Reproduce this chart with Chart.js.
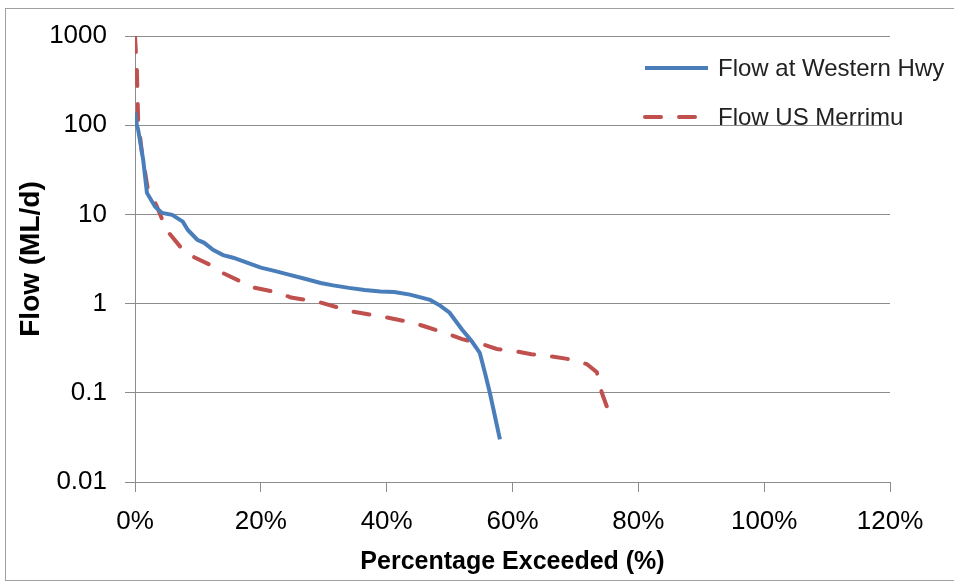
<!DOCTYPE html>
<html lang="en">
<head>
    <title>Flow Duration Curve</title>
    <meta charset="utf-8">
    <script src="https://cdn.jsdelivr.net/npm/chart.js@4.4.1/dist/chart.umd.min.js"></script>
    <style>
        body { margin: 0; background: #fff; }
        #wrap { position: relative; width: 954px; height: 583px; overflow: hidden; }
        #frame { position: absolute; left: 5px; top: 8px; width: 960px; height: 573px;
                 border: 1px solid #a0a0a0; box-sizing: border-box; pointer-events: none; }
    </style>
</head>
<body>

<div id="wrap">
    <canvas id="fdc" width="954" height="583"></canvas>
    <div id="frame"></div>
</div>

<script>
// percentage exceeded (%) and flow (ML/d)
var westernPct  = [0, 0.3, 0.5, 1.3, 1.9, 3.2, 4.3, 5.9, 7.6, 8.4, 9.9, 11, 12.4, 14, 15.6, 17.8, 20, 22, 24.6, 27, 29.5, 31.5, 34, 36.5, 39, 41.2, 43.7, 46.9, 48.5, 50, 52, 53.5, 54.8, 55.6, 56.4, 57.2, 58];
var westernFlow = [140, 100, 89, 41, 17.4, 12.2, 10.4, 9.9, 8.3, 6.7, 5.2, 4.8, 4.0, 3.5, 3.27, 2.88, 2.53, 2.34, 2.1, 1.9, 1.7, 1.6, 1.5, 1.42, 1.37, 1.35, 1.26, 1.1, 0.95, 0.79, 0.51, 0.38, 0.28, 0.17, 0.1, 0.055, 0.03];

var merrimuPct  = [0, 0.3, 0.5, 1.1, 2, 3.5, 5, 7.2, 8.7, 11.9, 13.5, 17.2, 18.9, 22.7, 24.8, 29, 34.7, 40, 44.2, 46.6, 50, 52, 55.3, 57.5, 60.7, 63, 66.3, 68.7, 71.8, 73.4, 74.2, 75];
var merrimuFlow = [1000, 410, 114, 49, 20, 12.2, 6.7, 4.34, 3.5, 2.73, 2.28, 1.72, 1.51, 1.33, 1.17, 1.05, 0.81, 0.70, 0.61, 0.54, 0.45, 0.40, 0.35, 0.31, 0.29, 0.27, 0.255, 0.24, 0.21, 0.17, 0.10, 0.07];

var seriesNames = ["Flow at Western Hwy", "Flow US Merrimu"];
var flowTicks = [0.01, 0.1, 1, 10, 100, 1000];

function toPoints(xs, ys) {
  return xs.map(function (x, i) { return { x: x, y: ys[i] }; });
}

var FONT = "'Liberation Sans', Arial, sans-serif";
var GRID = '#8c8c8c';

// legend drawn at the upper right inside the plot, like the original
var sideLegend = {
  id: 'sideLegend',
  afterDraw: function (chart) {
    var ctx = chart.ctx;
    var rows = [68, 117];
    ctx.save();
    chart.data.datasets.forEach(function (ds, i) {
      var y = rows[i];
      ctx.beginPath();
      ctx.lineWidth = 4;
      ctx.strokeStyle = ds.borderColor;
      ctx.lineCap = ds.borderCapStyle || 'butt';
      ctx.setLineDash(ds.borderDash || []);
      ctx.moveTo(645, y);
      ctx.lineTo(708, y);
      ctx.stroke();
      ctx.setLineDash([]);
      ctx.fillStyle = '#222';
      ctx.font = "24px " + FONT;
      ctx.textBaseline = 'middle';
      ctx.fillText(ds.label, 718, y + 1);
    });
    ctx.restore();
  }
};

new Chart(document.getElementById("fdc"), {
  type: 'line',
  data: {
    datasets: [{
      label: seriesNames[0],
      data: toPoints(westernPct, westernFlow),
      borderColor: '#4A7EBB',
      borderWidth: 4,
      pointRadius: 0,
      tension: 0
    }, {
      label: seriesNames[1],
      data: toPoints(merrimuPct, merrimuFlow),
      borderColor: '#C0504D',
      borderWidth: 4,
      borderDash: [16, 18],
      borderCapStyle: 'round',
      pointRadius: 0,
      tension: 0
    }]
  },
  options: {
    responsive: false,
    animation: false,
    layout: { padding: { top: 36, right: 64, left: 0, bottom: 0 } },
    plugins: {
      legend: { display: false },
      tooltip: { enabled: false }
    },
    scales: {
      x: {
        type: 'linear',
        min: 0,
        max: 120,
        ticks: {
          stepSize: 20,
          padding: 14,
          color: '#000',
          font: { family: FONT, size: 26 },
          callback: function (v) { return v + '%'; }
        },
        grid: { drawOnChartArea: false, drawTicks: true, tickLength: 10, color: GRID },
        border: { display: true, color: GRID },
        title: {
          display: true,
          text: 'Percentage Exceeded (%)',
          color: '#000',
          font: { family: FONT, size: 25, weight: 'bold' },
          padding: { top: 0, bottom: 6 }
        },
        afterFit: function (s) { s.height = 101; }
      },
      y: {
        type: 'logarithmic',
        min: 0.01,
        max: 1000,
        afterBuildTicks: function (s) {
          s.ticks = flowTicks.map(function (v) { return { value: v }; });
        },
        ticks: {
          padding: 18,
          color: '#000',
          font: { family: FONT, size: 26 },
          callback: function (v) { return String(v); }
        },
        grid: { color: GRID, tickLength: 10 },
        border: { display: true, color: GRID },
        title: {
          display: true,
          text: 'Flow (ML/d)',
          color: '#000',
          font: { family: FONT, size: 28, weight: 'bold' },
          padding: { top: 14, bottom: 0 }
        },
        afterFit: function (s) { s.width = 135; }
      }
    }
  },
  plugins: [sideLegend]
});
</script>
</body>
</html>
